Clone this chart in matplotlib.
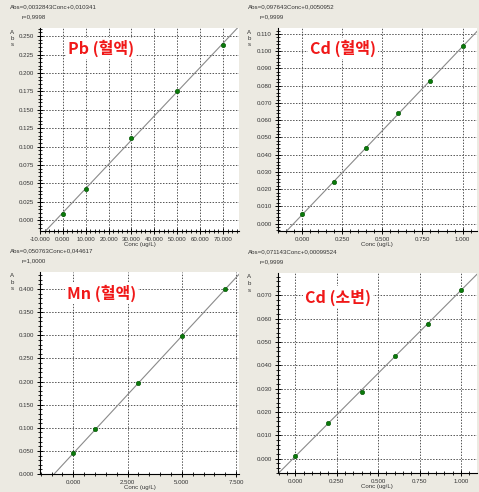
import numpy as np
import matplotlib.pyplot as plt
from matplotlib.ticker import MultipleLocator, FormatStrFormatter

# calibration standards
pb_conc = [0, 10, 30, 50, 70]
pb_abs = [0.009, 0.042, 0.111, 0.176, 0.238]
cdb_conc = [0, 0.2, 0.4, 0.6, 0.8, 1.0]
cdb_abs = [0.0055, 0.024, 0.044, 0.064, 0.0825, 0.103]
mn_conc = [0, 1, 3, 5, 7]
mn_abs = [0.0446, 0.0965, 0.197, 0.298, 0.400]
cdu_conc = [0, 0.2, 0.4, 0.6, 0.8, 1.0]
cdu_abs = [0.001, 0.0153, 0.0287, 0.044, 0.0577, 0.0723]

# fitted lines (slope, intercept) and r from the headers
pb_fit = (0.0032843, 0.010341)
cdb_fit = (0.097643, 0.0050952)
mn_fit = (0.050763, 0.044617)
cdu_fit = (0.071143, 0.00099524)

titles = ['Pb (혈액)', 'Cd (혈액)', 'Mn (혈액)', 'Cd (소변)']
headers = ['Abs=0,0032843Conc+0,010341', 'Abs=0,097643Conc+0,0050952',
           'Abs=0,050763Conc+0,044617', 'Abs=0,071143Conc+0,00099524']
r_texts = ['r=0,9998', 'r=0,9999', 'r=1,0000', 'r=0,9999']

W, H = 479, 492
bg = '#ECEAE2'
fig = plt.figure(figsize=(W / 100, H / 100), dpi=100, facecolor=bg)

def box(l, r, t, b):
    return [l / W, 1 - b / H, (r - l) / W, (b - t) / H]

panels = [
    dict(rect=box(40, 239, 28, 231), x=pb_conc, y=pb_abs, fit=pb_fit,
         xlim=(-10, 77), ylim=(-0.0146, 0.261), xmaj=10, xmin=2, ymaj=0.025, ymin=0.005,
         tpos=(0.14, 0.90)),
    dict(rect=box(277.5, 477, 28, 231), x=cdb_conc, y=cdb_abs, fit=cdb_fit,
         xlim=(-0.153, 1.09), ylim=(-0.0043, 0.1135), xmaj=0.25, xmin=0.05, ymaj=0.01, ymin=0.002,
         tpos=(0.163, 0.90)),
    dict(rect=box(40, 239, 272, 474), x=mn_conc, y=mn_abs, fit=mn_fit,
         xlim=(-1.53, 7.63), ylim=(0, 0.437), xmaj=2.5, xmin=0.5, ymaj=0.05, ymin=0.01,
         tpos=(0.136, 0.896)),
    dict(rect=box(277.5, 477, 273, 473), x=cdu_conc, y=cdu_abs, fit=cdu_fit,
         xlim=(-0.107, 1.096), ylim=(-0.0061, 0.0795), xmaj=0.25, xmin=0.05, ymaj=0.01, ymin=0.002,
         tpos=(0.138, 0.88)),
]

small = dict(fontsize=4.4, family='Liberation Sans', color='#333333')

for i, p in enumerate(panels):
    ax = fig.add_axes(p['rect'])
    ax.set_facecolor('white')
    ax.set_xlim(p['xlim'])
    ax.set_ylim(p['ylim'])
    for s in ['top', 'right']:
        ax.spines[s].set_visible(False)
    for s in ['left', 'bottom']:
        ax.spines[s].set_linewidth(0.8)
    ax.xaxis.set_major_locator(MultipleLocator(p['xmaj']))
    ax.xaxis.set_minor_locator(MultipleLocator(p['xmin']))
    ax.yaxis.set_major_locator(MultipleLocator(p['ymaj']))
    ax.yaxis.set_minor_locator(MultipleLocator(p['ymin']))
    ax.xaxis.set_major_formatter(FormatStrFormatter('%.3f'))
    ax.yaxis.set_major_formatter(FormatStrFormatter('%.3f'))
    ax.tick_params(which='major', direction='inout', length=5, width=0.7, pad=1.5,
                   labelsize=4.4, labelcolor='#333333')
    ax.tick_params(which='minor', direction='inout', length=3.5, width=0.6)
    for lab in ax.get_xticklabels() + ax.get_yticklabels():
        lab.set_family('Liberation Sans')
    ax.grid(True, which='major', color='#555555', linestyle=(0, (1.5, 1.5)), linewidth=0.7)
    ax.set_axisbelow(True)

    m, b = p['fit']
    ax.axline((0, b), slope=m, color='#8a8a8a', linewidth=0.8, zorder=2)
    ax.scatter(p['x'], p['y'], s=10, color='#0a7a0a', edgecolors='#005000',
               linewidths=0.4, zorder=4, clip_on=False)

    ax.text(p['tpos'][0], p['tpos'][1], titles[i], transform=ax.transAxes,
            fontsize=11.5, fontweight='bold', color='#F01818', family='Noto Sans CJK KR',
            ha='left', va='center', zorder=5,
            bbox=dict(facecolor='white', edgecolor='none', pad=1.5))

    ax.set_xlabel('Conc (ug/L)', labelpad=0.5, **small)

    # header text and stacked y label, positioned in figure pixels
    l, bt, w, h = p['rect']
    x0 = l * W
    top = (1 - bt - h) * H
    fig.text((x0 - 30) / W, 1 - (top - 21) / H, headers[i], ha='left', va='center', **small)
    fig.text((x0 - 18) / W, 1 - (top - 11) / H, r_texts[i], ha='left', va='center', **small)
    for k, ch in enumerate('Abs'):
        fig.text((x0 - 28) / W, 1 - (top + 4 + k * 6.5) / H, ch, ha='center', va='center', **small)

fig.savefig('out.png', dpi=100, facecolor=bg)
